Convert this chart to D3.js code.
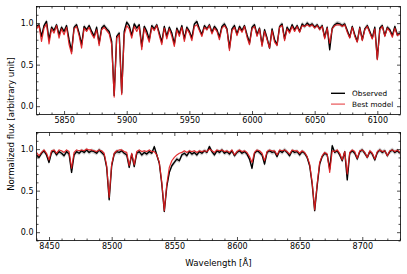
<!DOCTYPE html>
<html><head><meta charset="utf-8">
<script src="https://cdn.jsdelivr.net/npm/d3@7"></script>
<style>body{margin:0;background:#fff}svg{display:block}text{font-family:"DejaVu Sans",sans-serif;fill:#000}</style>
</head><body><svg id="c" width="407" height="274"></svg>
<script>
// ---- data (flux sampled every 2 Å) ----
const topStart = 5828, botStart = 8440, sampleStep = 2;
const topObserved = [0.96,0.98,0.84,0.97,1.02,0.80,0.95,0.91,0.98,0.86,
  0.95,0.90,0.97,0.80,0.66,0.95,0.98,0.88,0.74,0.96,
  0.92,0.97,0.90,0.84,0.95,0.76,0.94,0.97,0.93,0.90,
  0.78,0.13,0.84,0.88,0.16,0.90,1.01,0.97,0.85,0.99,
  0.94,0.98,0.72,0.96,0.90,0.80,0.97,0.93,0.98,0.88,
  0.77,0.96,0.84,0.95,0.88,0.75,0.94,0.87,0.97,0.81,
  0.95,0.90,0.82,0.99,1.02,0.93,0.86,0.97,0.93,0.98,
  0.89,0.96,0.92,0.83,0.96,0.99,0.93,0.70,0.93,0.97,
  0.87,0.96,0.91,0.97,0.86,0.76,0.95,0.98,0.86,0.94,
  0.74,0.92,0.82,0.70,0.93,0.80,0.74,0.96,0.99,0.81,
  0.95,0.90,0.98,0.92,0.97,0.90,0.99,0.96,1.00,0.97,
  0.99,0.95,0.98,0.93,0.97,0.83,0.95,0.68,0.94,0.98,
  1.00,0.99,0.97,0.99,0.91,0.83,0.96,0.86,0.78,0.95,
  0.80,0.93,0.97,0.90,0.82,0.95,0.57,0.94,0.97,0.85,
  0.95,0.92,0.85,0.96,0.86,0.88];
const topModel = [0.93,0.97,0.78,0.94,0.99,0.75,0.93,0.88,0.97,0.82,
  0.93,0.86,0.95,0.74,0.63,0.93,0.96,0.85,0.70,0.94,
  0.90,0.95,0.87,0.82,0.92,0.73,0.92,0.95,0.91,0.87,
  0.74,0.11,0.82,0.86,0.14,0.86,0.97,0.93,0.82,0.96,
  0.90,0.96,0.68,0.94,0.86,0.77,0.95,0.91,0.97,0.85,
  0.74,0.94,0.81,0.93,0.84,0.72,0.92,0.84,0.95,0.78,
  0.93,0.88,0.79,0.96,0.98,0.91,0.84,0.95,0.92,0.97,
  0.87,0.94,0.90,0.80,0.94,0.97,0.92,0.67,0.91,0.95,
  0.85,0.94,0.89,0.96,0.83,0.74,0.93,0.96,0.84,0.93,
  0.72,0.90,0.80,0.70,0.91,0.77,0.73,0.95,0.97,0.79,
  0.93,0.88,0.96,0.90,0.96,0.89,0.97,0.96,0.98,0.96,
  0.98,0.94,0.97,0.92,0.96,0.81,0.94,0.76,0.93,0.97,
  0.98,0.98,0.96,0.98,0.89,0.82,0.95,0.84,0.77,0.94,
  0.79,0.92,0.96,0.88,0.81,0.93,0.56,0.92,0.96,0.84,
  0.94,0.90,0.83,0.94,0.85,0.87];
const botObserved = [0.93,0.90,0.95,0.98,0.93,0.84,0.96,0.98,0.93,0.97,
  0.95,0.92,0.97,0.94,0.72,0.93,0.97,0.95,0.98,0.96,
  0.99,0.96,0.98,0.97,0.95,0.99,0.96,0.93,0.78,0.39,
  0.80,0.94,0.97,0.96,0.98,0.95,0.93,0.78,0.94,0.79,
  0.95,0.97,0.93,0.96,0.94,0.97,0.95,1.03,0.93,0.83,
  0.58,0.25,0.55,0.72,0.80,0.84,0.88,0.86,0.93,0.95,
  0.92,0.97,0.94,0.96,0.93,0.97,0.95,0.98,0.96,1.03,
  0.97,0.93,0.98,0.96,0.99,0.95,0.97,0.94,0.98,0.92,
  0.96,0.98,0.95,0.97,0.94,0.88,0.77,0.95,0.98,0.96,
  0.93,0.82,0.96,0.98,0.96,0.97,0.91,0.98,0.96,0.99,
  0.96,0.92,0.98,0.96,0.97,0.93,0.97,0.95,0.90,0.80,
  0.58,0.26,0.56,0.82,0.91,0.95,0.93,0.76,1.04,0.96,
  0.98,0.93,0.86,0.97,0.63,0.95,0.98,0.95,0.88,0.97,
  0.99,0.95,0.90,0.97,0.94,0.87,0.96,0.99,0.96,0.98,
  0.92,0.97,0.99,0.96,0.98,0.95];
const botModel = [0.96,0.92,0.96,0.99,0.95,0.87,0.98,0.99,0.95,0.99,
  0.98,0.96,0.99,0.97,0.77,0.96,0.99,0.98,0.99,0.98,
  1.00,0.99,0.99,0.98,0.97,0.99,0.98,0.95,0.80,0.42,
  0.82,0.95,0.98,0.99,0.99,0.97,0.96,0.80,0.95,0.81,
  0.97,0.99,0.97,0.98,0.97,0.99,0.97,0.97,0.93,0.84,
  0.60,0.26,0.58,0.78,0.86,0.90,0.93,0.95,0.96,0.98,
  0.96,0.98,0.97,0.98,0.96,0.98,0.97,0.98,0.97,1.00,
  0.98,0.96,0.99,0.98,0.99,0.97,0.98,0.96,0.99,0.93,
  0.97,0.99,0.97,0.98,0.96,0.91,0.84,0.96,0.99,0.98,
  0.95,0.86,0.97,0.99,0.98,0.98,0.93,0.99,0.98,0.99,
  0.97,0.94,0.99,0.98,0.98,0.95,0.98,0.96,0.91,0.82,
  0.60,0.27,0.58,0.84,0.92,0.96,0.94,0.72,0.98,0.97,
  0.99,0.95,0.87,0.97,0.70,0.96,0.99,0.97,0.89,0.98,
  0.99,0.96,0.90,0.98,0.95,0.88,0.97,0.99,0.97,0.98,
  0.92,0.98,0.99,0.97,0.99,0.96];
const topXTicks = [5850, 5900, 5950, 6000, 6050, 6100];
const botXTicks = [8450, 8500, 8550, 8600, 8650, 8700];
const yTicks = [0.0, 0.5, 1.0];
const topXDomain = [5828, 6118.5];
const botXDomain = [8440, 8730.5];
const yDomain = [-0.1, 1.2];
const legendLabels = ["Observed", "Best model"];
const xLabel = "Wavelength [Å]";
const yLabel = "Normalized flux [arbitrary unit]";

// ---- drawing ----
const svg = d3.select("#c");
const L = 36.5, R = 400.5;
const panels = [
  {start: topStart, obs: topObserved, mod: topModel, ticks: topXTicks, dom: topXDomain, y0: 6.5, y1: 114.5, legend: true},
  {start: botStart, obs: botObserved, mod: botModel, ticks: botXTicks, dom: botXDomain, y0: 132.5, y1: 240.5, legend: false}
];
const obsColor = "#000", modColor = "#e01b1e", bandColor = "#b8b8b8";
const fs = 8;

panels.forEach((p, k) => {
  const x = d3.scaleLinear().domain(p.dom).range([L, R]);
  const y = d3.scaleLinear().domain(yDomain).range([p.y1, p.y0]);
  const wave = p.obs.map((_, i) => p.start + i * sampleStep);
  const g = svg.append("g");
  const cid = "clip" + k;
  svg.append("clipPath").attr("id", cid).append("rect")
    .attr("x", L).attr("y", p.y0).attr("width", R - L).attr("height", p.y1 - p.y0);
  const plot = g.append("g").attr("clip-path", `url(#${cid})`);
  const band = d3.area().x((d, i) => x(wave[i])).y0(d => y(d - 0.028)).y1(d => y(d + 0.028));
  plot.append("path").datum(p.obs).attr("d", band).attr("fill", bandColor).attr("opacity", 0.7);
  const line = d3.line().x((d, i) => x(wave[i])).y(d => y(d));
  plot.append("path").datum(p.obs).attr("d", line).attr("fill", "none")
    .attr("stroke", obsColor).attr("stroke-width", 1.4).attr("stroke-linejoin", "round");
  plot.append("path").datum(p.mod).attr("d", line).attr("fill", "none")
    .attr("stroke", modColor).attr("stroke-opacity", 0.92).attr("stroke-width", 1.2).attr("stroke-linejoin", "round");

  // axes with inward ticks on all sides
  const minorX = d3.range(Math.ceil(p.dom[0] / 10) * 10, p.dom[1], 10).filter(v => v % 50 !== 0);
  const minorY = d3.range(-1, 13).map(v => v / 10).filter(v => Math.abs(v * 2 - Math.round(v * 2)) > 1e-6);
  const mk = (axisFn, scale, vals, len, labels) => {
    const a = axisFn(scale).tickValues(vals).tickSizeInner(-len).tickSizeOuter(0).tickPadding(3 + len);
    if (!labels) a.tickFormat(""); else a.tickFormat(labels);
    return a;
  };
  const axB = g.append("g").attr("transform", `translate(0,${p.y1})`).call(mk(d3.axisBottom, x, p.ticks, 3.5, d3.format("d")));
  g.append("g").attr("transform", `translate(0,${p.y1})`).call(mk(d3.axisBottom, x, minorX, 2, null));
  g.append("g").attr("transform", `translate(0,${p.y0})`).call(mk(d3.axisTop, x, p.ticks, 3.5, null));
  g.append("g").attr("transform", `translate(0,${p.y0})`).call(mk(d3.axisTop, x, minorX, 2, null));
  const axL = g.append("g").attr("transform", `translate(${L},0)`).call(mk(d3.axisLeft, y, yTicks, 3.5, d3.format(".1f")));
  g.append("g").attr("transform", `translate(${L},0)`).call(mk(d3.axisLeft, y, minorY, 2, null));
  g.append("g").attr("transform", `translate(${R},0)`).call(mk(d3.axisRight, y, yTicks, 3.5, null));
  g.append("g").attr("transform", `translate(${R},0)`).call(mk(d3.axisRight, y, minorY, 2, null));
  g.selectAll(".domain").remove();
  g.selectAll(".tick line").attr("stroke", "#000").attr("stroke-width", 0.7);
  g.selectAll(".tick text").attr("font-size", fs).attr("font-family", "DejaVu Sans");
  axB.selectAll(".tick text").attr("dy", "0.71em").attr("y", 3);
  axL.selectAll(".tick text").attr("x", -3);
  g.append("rect").attr("x", L).attr("y", p.y0).attr("width", R - L).attr("height", p.y1 - p.y0)
    .attr("fill", "none").attr("stroke", "#000").attr("stroke-width", 0.8);

  if (p.legend) {
    const lg = g.append("g");
    const rows = [{c: obsColor, o: 1, w: 1.4}, {c: modColor, o: 0.75, w: 1.2}];
    rows.forEach((r, i) => {
      const yy = 93.3 + i * 10.8;
      lg.append("line").attr("x1", 331).attr("x2", 345).attr("y1", yy).attr("y2", yy)
        .attr("stroke", r.c).attr("stroke-opacity", r.o).attr("stroke-width", r.w);
      lg.append("text").attr("x", 352).attr("y", yy).attr("dy", "0.35em")
        .attr("font-size", 7.3).text(legendLabels[i]);
    });
  }
});

svg.append("text").attr("x", (L + R) / 2).attr("y", 263).attr("dy", "0.35em")
  .attr("text-anchor", "middle").attr("font-size", 8.6).text(xLabel);
svg.append("text").attr("transform", "translate(11,124) rotate(-90)").attr("dy", "0.35em")
  .attr("text-anchor", "middle").attr("font-size", 8.6).text(yLabel);
</script></body></html>
